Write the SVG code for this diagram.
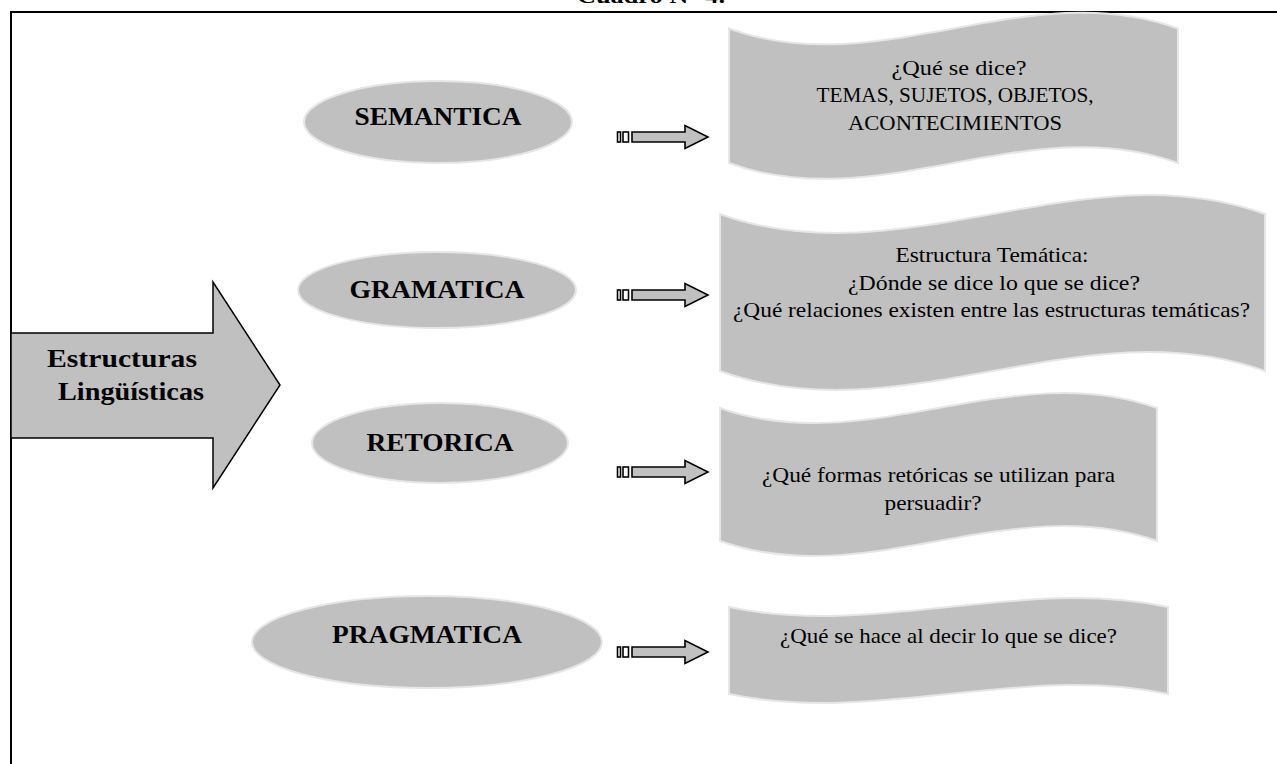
<svg xmlns="http://www.w3.org/2000/svg" xmlns:xlink="http://www.w3.org/1999/xlink" width="1277" height="764" viewBox="0 0 1277 764">
<style>
.fr{fill:none;stroke:#000;stroke-width:2}
.ell{fill:#c0c0c0;stroke:#e6e6e6;stroke-width:2}
.ban{fill:#c0c0c0;stroke:#e6e6e6;stroke-width:2}
.big{fill:#c0c0c0;stroke:#000;stroke-width:1.5}
.sa{fill:#c0c0c0;stroke:#000;stroke-width:1.6}
.sab{fill:#fff;stroke:#000;stroke-width:1.6}
.b{font-family:"Liberation Serif","Times New Roman",serif;font-weight:bold;fill:#000}
.t{font-family:"Liberation Serif","Times New Roman",serif;font-size:21px;fill:#000;text-anchor:middle}
</style>
<defs>
<g id="sarrow">
<rect class="sab" x="617.5" y="-5" width="3" height="10"/>
<rect class="sab" x="623" y="-5" width="5.5" height="10"/>
<polygon class="sa" points="632,-5 685,-5 685,-11.5 708,0 685,11.5 685,5 632,5"/>
</g>
</defs>
<rect width="1277" height="764" fill="#fff"/>
<text class="b" x="651" y="3" font-size="21" text-anchor="middle" textLength="148" lengthAdjust="spacingAndGlyphs">Cuadro N° 4.</text>
<path class="fr" d="M11,764 V12 H1277"/>

<g id="estructuras">
<polygon class="big" points="11,333 213,333 213,282 280,385 213,488 213,438 11,438"/>
<text class="b" x="47" y="367" font-size="25" textLength="150" lengthAdjust="spacingAndGlyphs">Estructuras</text>
<text class="b" x="58" y="400" font-size="25" textLength="146" lengthAdjust="spacingAndGlyphs">Lingüísticas</text>
</g>

<g id="semantica">
<ellipse class="ell" cx="438" cy="122" rx="134" ry="41"/>
<text class="b" x="438" y="125" font-size="25" text-anchor="middle" textLength="167" lengthAdjust="spacingAndGlyphs">SEMANTICA</text>
</g>
<g id="gramatica">
<ellipse class="ell" cx="437" cy="290" rx="139" ry="38"/>
<text class="b" x="437" y="298" font-size="25" text-anchor="middle" textLength="175" lengthAdjust="spacingAndGlyphs">GRAMATICA</text>
</g>
<g id="retorica">
<ellipse class="ell" cx="440" cy="443" rx="128" ry="40"/>
<text class="b" x="440" y="451" font-size="25" text-anchor="middle" textLength="147" lengthAdjust="spacingAndGlyphs">RETORICA</text>
</g>
<g id="pragmatica">
<ellipse class="ell" cx="427" cy="642" rx="175" ry="46"/>
<text class="b" x="427" y="643" font-size="25" text-anchor="middle" textLength="190" lengthAdjust="spacingAndGlyphs">PRAGMATICA</text>
</g>

<g id="banner-semantica">
<path class="ban" d="M729,28.5 C878.7,83.5 1028.3,-26.5 1178,28.5 V163 C1028.3,108 878.7,218 729,163 Z"/>
<text class="t" x="959" y="75" textLength="135" lengthAdjust="spacingAndGlyphs">¿Qué se dice?</text>
<text class="t" x="955" y="102" textLength="277" lengthAdjust="spacingAndGlyphs">TEMAS, SUJETOS, OBJETOS,</text>
<text class="t" x="955" y="130" textLength="214" lengthAdjust="spacingAndGlyphs">ACONTECIMIENTOS</text>
</g>
<g id="banner-gramatica">
<path class="ban" d="M720,214 C901.7,280 1083.3,148 1265,214 V371 C1083.3,305 901.7,437 720,371 Z"/>
<text class="t" x="992" y="262" textLength="193" lengthAdjust="spacingAndGlyphs">Estructura Temática:</text>
<text class="t" x="994" y="290" textLength="292" lengthAdjust="spacingAndGlyphs">¿Dónde se dice lo que se dice?</text>
<text class="t" x="991.5" y="317" textLength="517" lengthAdjust="spacingAndGlyphs">¿Qué relaciones existen entre las estructuras temáticas?</text>
</g>
<g id="banner-retorica">
<path class="ban" d="M720,408 C865.7,460 1011.3,356 1157,408 V541 C1011.3,489 865.7,593 720,541 Z"/>
<text class="t" x="938.5" y="482" textLength="353" lengthAdjust="spacingAndGlyphs">¿Qué formas retóricas se utilizan para</text>
<text class="t" x="933" y="510" textLength="97" lengthAdjust="spacingAndGlyphs">persuadir?</text>
</g>
<g id="banner-pragmatica">
<path class="ban" d="M729,607 C875.3,638 1021.7,576 1168,607 V694 C1021.7,663 875.3,725 729,694 Z"/>
<text class="t" x="948.5" y="643" textLength="337" lengthAdjust="spacingAndGlyphs">¿Qué se hace al decir lo que se dice?</text>
</g>

<g id="connectors">
<use xlink:href="#sarrow" transform="translate(0,137)"/>
<use xlink:href="#sarrow" transform="translate(0,295)"/>
<use xlink:href="#sarrow" transform="translate(0,472)"/>
<use xlink:href="#sarrow" transform="translate(0,652)"/>
</g>
</svg>
